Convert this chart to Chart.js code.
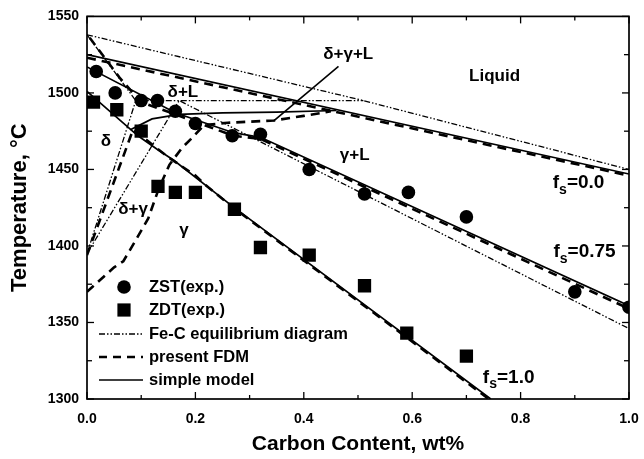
<!DOCTYPE html>
<html><head><meta charset="utf-8">
<script src="https://cdn.jsdelivr.net/npm/chart.js@4.4.0/dist/chart.umd.min.js"></script>
<style>html,body{margin:0;padding:0;background:#fff;}</style>
</head><body>
<canvas id="c" width="644" height="459"></canvas>
<script>
// ---------- data ----------
const xTicks = [0, 0.2, 0.4, 0.6, 0.8, 1.0];
const xTickLabels = ['0.0', '0.2', '0.4', '0.6', '0.8', '1.0'];
const xMinor = [0.1, 0.3, 0.5, 0.7, 0.9];
const yTicks = [1300, 1350, 1400, 1450, 1500, 1550];
const yTickLabels = ['1300', '1350', '1400', '1450', '1500', '1550'];
const yMinor = [1325, 1375, 1425, 1475, 1525];

// experimental points
const zstC = [0.017, 0.052, 0.10, 0.13, 0.163, 0.20, 0.268, 0.32, 0.41, 0.512, 0.593, 0.70, 0.90, 1.00];
const zstT = [1514, 1500, 1495, 1495, 1488, 1480, 1472, 1473, 1450, 1434, 1435, 1419, 1370, 1360];
const zdtC = [0.012, 0.055, 0.10, 0.131, 0.163, 0.20, 0.272, 0.32, 0.41, 0.512, 0.59, 0.70];
const zdtT = [1494, 1489, 1475, 1439, 1435, 1435, 1424, 1399, 1394, 1374, 1343, 1328];

// Fe-C equilibrium diagram
const feLiqC = [0, 0.51, 1.0];          const feLiqT = [1538, 1495, 1450];
const feDeltaC = [0, 0.09, 0];          const feDeltaT = [1538, 1495, 1395];
const fePeriC = [0.09, 0.51];           const fePeriT = [1495, 1495];
const feGammaC = [0, 0.17, 1.0];        const feGammaT = [1395, 1495, 1346];

// present FDM
const fdmLiqC = [0, 1.0];               const fdmLiqT = [1523, 1446];
const fdm075C = [0.005, 0.06, 0.10, 0.163, 0.27, 0.32, 1.0];
const fdm075T = [1536, 1510, 1494, 1486, 1472, 1470, 1359];
const fdm10C = [0, 0.085, 0.107, 0.15, 0.20, 0.218, 0.27, 0.745];
const fdm10T = [1394, 1476, 1470, 1458, 1446, 1440, 1425, 1299];
const fdmGamC = [0, 0.05, 0.067, 0.087, 0.113, 0.133, 0.152, 0.175, 0.192, 0.216, 0.26, 0.345, 0.40, 0.45];
const fdmGamT = [1370, 1386, 1390, 1402, 1418, 1438, 1453, 1464, 1470, 1479, 1480.5, 1482, 1485, 1488];

// simple model
const smLiqC = [0, 1.0];                const smLiqT = [1525, 1447];
const sm075C = [0, 0.163, 0.27, 0.32, 1.0];
const sm075T = [1517, 1487, 1474, 1471, 1361];
const smLensC = [0.08, 0.12, 0.17, 0.25, 0.35, 0.46];
const smLensT = [1476, 1483, 1486, 1487, 1487.5, 1488.5];
const sm10C = [0, 0.094, 0.13, 0.16, 0.268, 0.745];
const sm10T = [1501, 1472, 1463, 1456, 1426, 1300];

// annotations (text, x, y in data units)
const regionText = ['Liquid', 'δ+γ+L', 'δ+L', 'δ', 'δ+γ', 'γ', 'γ+L'];
const regionC = [0.752, 0.482, 0.177, 0.035, 0.085, 0.179, 0.494];
const regionT = [1511, 1525, 1500.5, 1468.6, 1424, 1410, 1459];
const fsText = ['0.0', '0.75', '1.0'];
const fsC = [0.907, 0.918, 0.778];
const fsT = [1441, 1396, 1314];
const leaderC = [0.464, 0.344];
const leaderT = [1517.4, 1481.6];

const legendText = ['ZST(exp.)', 'ZDT(exp.)', 'Fe-C equilibrium diagram', 'present FDM', 'simple model'];
const xTitle = 'Carbon Content, wt%';
const yTitle = 'Temperature, °C';

// ---------- build ----------
const FONT = '"Liberation Sans", Arial, Helvetica, sans-serif';
const zip = (xs, ys) => xs.map((v, i) => ({x: v, y: ys[i]}));
const FE_DASH = [6, 2, 1.5, 2, 1.5, 2];
const FDM_DASH = [9, 6];

function lineDs(label, xs, ys, kind) {
  const st = kind === 'fe' ? {borderWidth: 1.3, borderDash: FE_DASH}
           : kind === 'fdm' ? {borderWidth: 2.6, borderDash: FDM_DASH}
           : {borderWidth: 1.7, borderDash: []};
  return Object.assign({label, data: zip(xs, ys), showLine: true, pointRadius: 0,
    borderColor: '#000', backgroundColor: '#000', fill: false, tension: 0}, st);
}

const datasets = [
  {label: legendText[0], data: zip(zstC, zstT), showLine: false, pointStyle: 'circle',
   pointRadius: 6.8, backgroundColor: '#000', borderColor: '#000', borderWidth: 0},
  {label: legendText[1], data: zip(zdtC, zdtT), showLine: false, pointStyle: 'rect',
   pointRadius: 9.4, backgroundColor: '#000', borderColor: '#000', borderWidth: 0},
  lineDs('simple model fs=0', smLiqC, smLiqT, 'sm'),
  lineDs('simple model fs=0.75', sm075C, sm075T, 'sm'),
  lineDs('simple model lens', smLensC, smLensT, 'sm'),
  lineDs('simple model fs=1', sm10C, sm10T, 'sm'),
  lineDs('FDM fs=0', fdmLiqC, fdmLiqT, 'fdm'),
  lineDs('FDM fs=0.75', fdm075C, fdm075T, 'fdm'),
  lineDs('FDM fs=1', fdm10C, fdm10T, 'fdm'),
  lineDs('FDM gamma', fdmGamC, fdmGamT, 'fdm'),
  lineDs('Fe-C liquidus', feLiqC, feLiqT, 'fe'),
  lineDs('Fe-C delta', feDeltaC, feDeltaT, 'fe'),
  lineDs('Fe-C peritectic', fePeriC, fePeriT, 'fe'),
  lineDs('Fe-C gamma', feGammaC, feGammaT, 'fe'),
];

const decor = {
  id: 'decor',
  afterDraw(chart) {
    const {ctx, chartArea: a, scales: {x, y}} = chart;
    const seg = (x1, y1, x2, y2) => { ctx.beginPath(); ctx.moveTo(x1, y1); ctx.lineTo(x2, y2); ctx.stroke(); };
    ctx.save();
    ctx.strokeStyle = '#000'; ctx.fillStyle = '#000';
    // frame
    ctx.lineWidth = 1.7; ctx.setLineDash([]);
    ctx.strokeRect(a.left, a.top, a.right - a.left, a.bottom - a.top);
    // inward ticks
    ctx.lineWidth = 1.3;
    const xt = (v, len) => { const p = x.getPixelForValue(v); seg(p, a.bottom, p, a.bottom - len); seg(p, a.top, p, a.top + len); };
    const yt = (v, len) => { const p = y.getPixelForValue(v); seg(a.left, p, a.left + len, p); seg(a.right, p, a.right - len, p); };
    xTicks.forEach(v => xt(v, 7)); xMinor.forEach(v => xt(v, 4));
    yTicks.forEach(v => yt(v, 7)); yMinor.forEach(v => yt(v, 5));
    // leader line
    ctx.lineWidth = 1.6;
    seg(x.getPixelForValue(leaderC[0]), y.getPixelForValue(leaderT[0]),
        x.getPixelForValue(leaderC[1]), y.getPixelForValue(leaderT[1]));
    // region labels
    ctx.font = 'bold 17px ' + FONT; ctx.textAlign = 'center'; ctx.textBaseline = 'middle';
    regionText.forEach((t, i) => ctx.fillText(t, x.getPixelForValue(regionC[i]), y.getPixelForValue(regionT[i])));
    // fs labels
    fsText.forEach((t, i) => {
      const mainF = 'bold 19px ' + FONT, subF = 'bold 14px ' + FONT;
      ctx.font = mainF; const wf = ctx.measureText('f').width; const wr = ctx.measureText('=' + t).width;
      ctx.font = subF; const ws = ctx.measureText('s').width;
      const total = wf + ws + wr;
      let px = x.getPixelForValue(fsC[i]) - total / 2; const py = y.getPixelForValue(fsT[i]);
      ctx.textAlign = 'left'; ctx.textBaseline = 'middle';
      ctx.font = mainF; ctx.fillText('f', px, py); px += wf;
      ctx.font = subF; ctx.fillText('s', px, py + 7); px += ws;
      ctx.font = mainF; ctx.fillText('=' + t, px, py);
    });
    // legend
    const lx0 = a.left + 12, lx1 = a.left + 56, lcx = a.left + 37, tx = a.left + 62;
    const rows = [287, 310, 334, 357, 380];
    ctx.font = 'bold 16.5px ' + FONT; ctx.textAlign = 'left'; ctx.textBaseline = 'middle';
    legendText.forEach((t, i) => {
      const ry = rows[i];
      ctx.setLineDash([]);
      if (i === 0) { ctx.beginPath(); ctx.arc(lcx, ry, 6.8, 0, Math.PI * 2); ctx.fill(); }
      else if (i === 1) { ctx.fillRect(lcx - 6.6, ry - 6.6, 13.2, 13.2); }
      else if (i === 2) { ctx.lineWidth = 1.3; ctx.setLineDash(FE_DASH); seg(lx0, ry, lx1, ry); }
      else if (i === 3) { ctx.lineWidth = 2.6; ctx.setLineDash([8, 6]); seg(lx0, ry, lx1, ry); }
      else { ctx.lineWidth = 1.7; seg(lx0, ry, lx1, ry); }
      ctx.setLineDash([]);
      ctx.fillText(t, tx, ry);
    });
    ctx.restore();
  }
};

new Chart(document.getElementById('c'), {
  type: 'scatter',
  data: {datasets},
  options: {
    responsive: false, animation: false, devicePixelRatio: 1,
    layout: {padding: {left: 0, right: 15, top: 15, bottom: 0}},
    plugins: {legend: {display: false}, tooltip: {enabled: false}},
    scales: {
      x: {
        type: 'linear', min: 0, max: 1,
        afterFit(s) { s.height = 60; s.paddingLeft = 0; s.paddingRight = 0; },
        afterBuildTicks(s) { s.ticks = xTicks.map(v => ({value: v})); },
        grid: {display: false, drawTicks: false}, border: {display: false},
        ticks: {padding: 12, color: '#000', autoSkip: false, maxRotation: 0,
                font: {family: FONT, size: 14, weight: 'bold'},
                callback: (v, i) => xTickLabels[i]},
        title: {display: true, text: xTitle, color: '#000',
                font: {family: FONT, size: 21, weight: 'bold'}, padding: {top: 0, bottom: 2}}
      },
      y: {
        type: 'linear', min: 1300, max: 1550,
        afterFit(s) { s.width = 87; },
        afterBuildTicks(s) { s.ticks = yTicks.map(v => ({value: v})); },
        grid: {display: false, drawTicks: false}, border: {display: false},
        ticks: {padding: 8, color: '#000', autoSkip: false,
                font: {family: FONT, size: 14, weight: 'bold'},
                callback: (v, i) => yTickLabels[i]},
        title: {display: true, text: yTitle, color: '#000',
                font: {family: FONT, size: 22, weight: 'bold'}, padding: {top: 7, bottom: 0}}
      }
    }
  },
  plugins: [decor]
});
</script>
</body></html>
